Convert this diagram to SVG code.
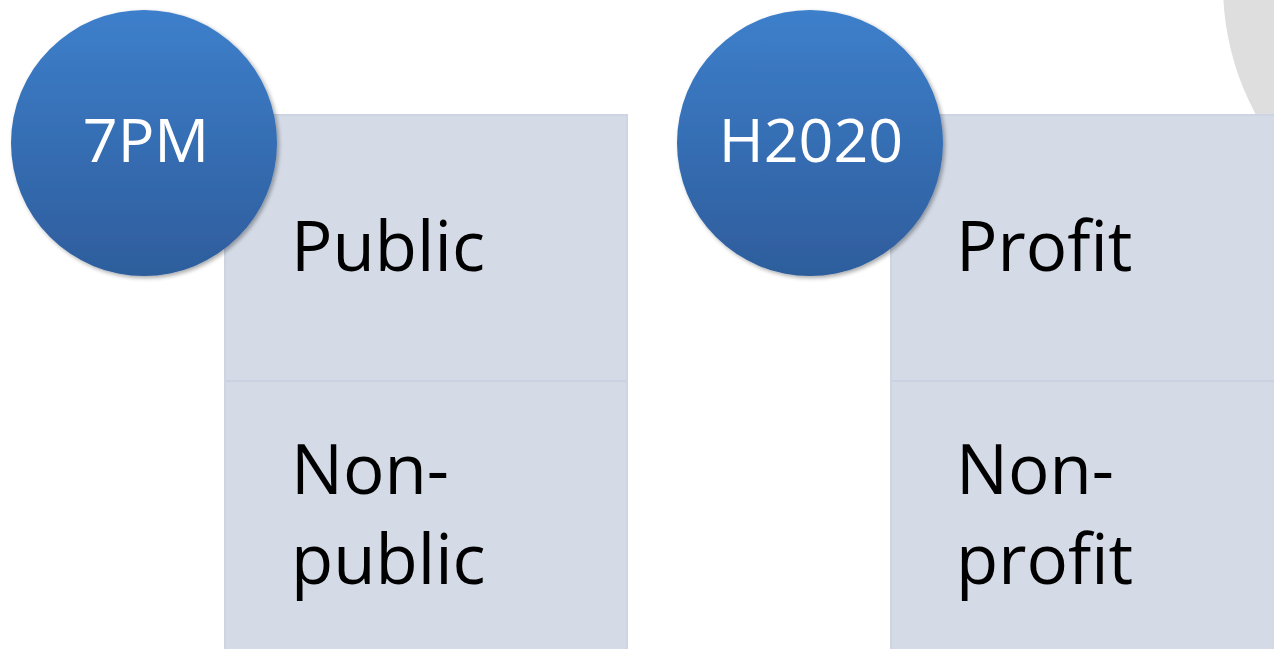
<svg xmlns="http://www.w3.org/2000/svg" width="1274" height="649" viewBox="0 0 1274 649">
<style>
.box{fill:#d4dbe7;stroke:#cdd5e3;stroke-width:2}
.div{stroke:#cad2e1;stroke-width:2}
.lbl{font-family:"Open Sans","Noto Sans",sans-serif;font-size:69px;fill:#000}
.ct{font-family:"Open Sans","Noto Sans",sans-serif;font-size:61px;fill:#fff;text-anchor:middle}
.circ{fill:url(#g)}
</style>
<defs>
<linearGradient id="g" x1="0" y1="0" x2="0" y2="1">
<stop offset="0" stop-color="#3d7fcb"/>
<stop offset="1" stop-color="#2e5d9c"/>
</linearGradient>
<filter id="sh" x="-10%" y="-10%" width="125%" height="125%">
<feGaussianBlur in="SourceAlpha" stdDeviation="2"/>
<feOffset dx="2" dy="2"/>
<feComponentTransfer><feFuncA type="linear" slope="0.35"/></feComponentTransfer>
<feMerge><feMergeNode/><feMergeNode in="SourceGraphic"/></feMerge>
</filter>
</defs>
<rect width="1274" height="649" fill="#fff"/>
<circle cx="1495" cy="-15" r="272" fill="#dedede"/>
<g id="box-left">
<rect class="box" x="225" y="115" width="402" height="540"/>
<line class="div" x1="226" y1="381" x2="626" y2="381"/>
<text class="lbl" x="291" y="271">Public</text>
<text class="lbl" x="291" y="494">Non-</text>
<text class="lbl" x="291" y="584">public</text>
</g>
<g id="box-right">
<rect class="box" x="891" y="115" width="400" height="540"/>
<line class="div" x1="892" y1="381" x2="1274" y2="381"/>
<text class="lbl" x="956" y="271">Profit</text>
<text class="lbl" x="956" y="494">Non-</text>
<text class="lbl" x="956" y="584">profit</text>
</g>
<g id="circle-7pm" filter="url(#sh)">
<circle class="circ" cx="144" cy="143" r="133"/>
<text class="ct" x="146" y="162">7PM</text>
</g>
<g id="circle-h2020" filter="url(#sh)">
<circle class="circ" cx="810" cy="143" r="133"/>
<text class="ct" x="811" y="162">H2020</text>
</g>
<g id="connectors"/>
</svg>
